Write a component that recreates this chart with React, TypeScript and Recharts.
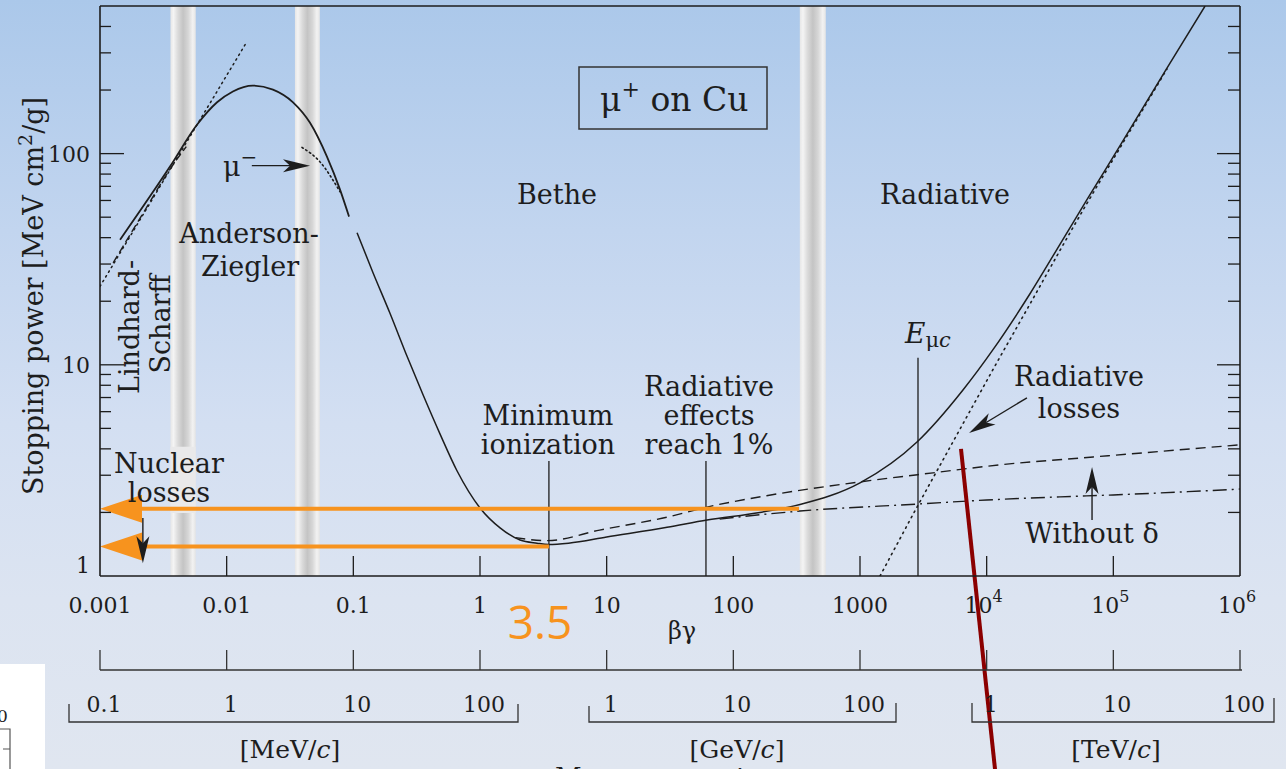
import React from 'react'
import {
  ComposedChart,
  Line,
  XAxis,
  YAxis,
  ReferenceArea,
  ReferenceLine,
} from 'recharts'

const W = 1286
const H = 769
const ink = '#1d1d1d'
const orange = '#f7931e'
const serif = '"DejaVu Serif", "Liberation Serif", serif'

// beta-gamma decades (main and secondary axis)
const decades = [0.001, 0.01, 0.1, 1, 10, 100, 1000, 1e4, 1e5, 1e6]
const decadeLabels = ['0.001', '0.01', '0.1', '1', '10', '100', '1000', '10|4', '10|5', '10|6']

// muon momentum under each decade (p = beta-gamma * 105.7 MeV/c)
const momentumLabels = ['0.1', '1', '10', '100', '1', '10', '100', '1', '10', '100']

// stopping power ticks
const yTicks = [1, 2, 3, 4, 5, 6, 7, 8, 9, 10, 20, 30, 40, 50, 60, 70, 80, 90, 100, 200, 300, 400]
const yMajor = [1, 10, 100]

// curves: [beta-gamma, MeV cm2/g]
const andersonZiegler = [
  [0.00144, 39.1], [0.00357, 86.8], [0.00583, 137], [0.0084, 175], [0.0112, 197],
  [0.0161, 210], [0.0232, 201], [0.0334, 175], [0.0455, 140], [0.0619, 96.8],
  [0.0785, 67.5], [0.0925, 50.3],
]
const betheTotal = [
  [0.107, 42.2], [0.143, 27.3], [0.195, 17.5], [0.265, 11.0], [0.355, 7.21],
  [0.483, 4.71], [0.658, 3.15], [1.0, 2.1], [1.44, 1.69], [2.07, 1.48],
  [2.82, 1.43], [3.5, 1.41], [5, 1.43], [10, 1.53], [30, 1.7], [62, 1.84],
  [162, 2.0], [336, 2.18], [1000, 2.76], [2818, 4.31], [6500, 7.6],
  [11220, 11.8], [21980, 21.7], [37900, 37.2], [61900, 60.5], [113000, 109],
  [265000, 254], [530000, 500],
]
const withoutDensity = [
  [1.9, 1.52], [3.4, 1.47], [8.8, 1.65], [30, 1.9], [62, 2.12], [183, 2.4],
  [1000, 2.79], [3770, 3.08], [12740, 3.36], [69200, 3.66], [1e6, 4.18],
]
const ionizationOnly = [
  [78, 1.86], [162, 1.95], [336, 2.03], [2818, 2.19], [10000, 2.29],
  [37900, 2.37], [100000, 2.42], [1e6, 2.58],
]
const radiativeLosses = [
  [1440, 1.0], [2820, 2.12], [6150, 4.95], [11220, 9.5], [21980, 19.4],
  [37900, 34.8], [61900, 58.1], [113000, 106.6], [265000, 251.5],
]
const lindhardScharff = [[0.001, 23.5], [0.0145, 340]]
const lowEnergyDashed = [[0.00127, 30.4], [0.00218, 52], [0.0036, 85], [0.0048, 108]]
const muMinus = [[0.0393, 107], [0.0544, 91.6], [0.0785, 66]]

// grey bands (beta-gamma ranges)
const bands = [[0.0036, 0.0057], [0.0346, 0.0544], [335, 537]]

// vertical markers: [beta-gamma, top value]
const markers = [[3.5, 3.5], [60.8, 3.5], [2870, 10.8]]

const toPts = (a: number[][]) => a.map(([x, y]) => ({ x, y }))
const near = (a: number, b: number) => Math.abs(Math.log10(a) - Math.log10(b)) < 0.01

function BottomTick({ x, y, payload }: any) {
  const i = decades.findIndex((d) => near(d, payload.value))
  const inner = i > 0 && i < decades.length - 1
  const [base, exp] = (decadeLabels[i] ?? '').split('|')
  return (
    <g fontFamily={serif} fontSize={22} fill={ink}>
      {inner && <line x1={x} x2={x} y1={y} y2={y - 20} stroke={ink} strokeWidth={1.3} />}
      <text x={exp ? x - 3 : x} y={y + 37} textAnchor="middle">
        {base}
        {exp && (
          <tspan dy={-11} fontSize={16}>
            {exp}
          </tspan>
        )}
      </text>
      {/* secondary beta-gamma scale */}
      <line x1={x} x2={x} y1={y + 74} y2={y + 94} stroke="#333" strokeWidth={1.3} />
      {/* momentum scale */}
      <text x={x + 4} y={y + 136} textAnchor="middle">
        {momentumLabels[i]}
      </text>
    </g>
  )
}

function TopTick({ x, y, payload }: any) {
  const i = decades.findIndex((d) => near(d, payload.value))
  if (i <= 0 || i >= decades.length - 1) return <g />
  return <line x1={x} x2={x} y1={y} y2={y + 20} stroke={ink} strokeWidth={1.3} />
}

function LeftTick({ x, y, payload }: any) {
  const v = payload.value
  const major = yMajor.includes(v)
  const len = major ? 24 : 11
  return (
    <g>
      {v !== 1 && <line x1={x} x2={x + len} y1={y} y2={y} stroke={ink} strokeWidth={1.3} />}
      {major && (
        <text x={x - 10} y={v === 1 ? y - 3 : y + 8} textAnchor="end" fontFamily={serif} fontSize={22} fill={ink}>
          {v}
        </text>
      )}
    </g>
  )
}

function RightTick({ x, y, payload }: any) {
  const v = payload.value
  if (v === 1) return <g />
  const len = yMajor.includes(v) ? 23 : 12
  return <line x1={x} x2={x - len} y1={y} y2={y} stroke={ink} strokeWidth={1.3} />
}

const arrowShape =
  (len: number, half: number, notch: number, color: string, width: number) =>
  (p: any) => {
    const { x1, y1, x2, y2 } = p
    const dx = x2 - x1
    const dy = y2 - y1
    const d = Math.hypot(dx, dy) || 1
    const ux = dx / d
    const uy = dy / d
    const bx = x2 - ux * len
    const by = y2 - uy * len
    const nx = -uy
    const ny = ux
    const mx = x2 - ux * (len - notch)
    const my = y2 - uy * (len - notch)
    const pts = [
      [x2, y2],
      [bx + nx * half, by + ny * half],
      [mx, my],
      [bx - nx * half, by - ny * half],
    ]
    return (
      <g>
        <line x1={x1} y1={y1} x2={mx} y2={my} stroke={color} strokeWidth={width} />
        <polygon points={pts.map((q) => q.join(',')).join(' ')} fill={color} />
      </g>
    )
  }

const orangeArrow = arrowShape(42, 14, 0, orange, 4)
const blackArrow = arrowShape(27, 6.5, 7, ink, 1.4)

const ax = { xAxisId: 'main', yAxisId: 'main' } as const
const lineCommon = {
  ...ax,
  dataKey: 'y',
  dot: false,
  activeDot: false,
  isAnimationActive: false,
  stroke: ink,
  type: 'monotone' as const,
}

export default function App() {
  return (
    <div
      style={{
        position: 'absolute',
        left: 0,
        top: 0,
        width: W,
        height: H,
        overflow: 'hidden',
        background:
          'linear-gradient(to bottom, #abc8ea 0%, #c2d5ef 30%, #d3dff2 55%, #dce4f1 78%, #e0e6f0 100%)',
      }}
    >
      <ComposedChart width={W} height={H} margin={{ top: 0, right: 0, bottom: 0, left: 0 }}>
        <defs>
          <linearGradient id="bandGrad" x1="0" y1="0" x2="1" y2="0">
            <stop offset="0" stopColor="#e6e6e6" />
            <stop offset="0.12" stopColor="#f4f4f4" />
            <stop offset="0.3" stopColor="#dadada" />
            <stop offset="0.5" stopColor="#c4c4c4" />
            <stop offset="0.7" stopColor="#d6d6d6" />
            <stop offset="0.88" stopColor="#f2f2f2" />
            <stop offset="1" stopColor="#e4e4e4" />
          </linearGradient>
        </defs>
        <XAxis
          xAxisId="main"
          type="number"
          dataKey="x"
          scale="log"
          domain={[0.001, 1e6]}
          allowDataOverflow
          ticks={decades}
          interval={0}
          height={193}
          tickSize={0}
          tickMargin={0}
          tickLine={false}
          axisLine={{ stroke: ink, strokeWidth: 1.6 }}
          tick={(p: any) => <BottomTick {...p} />}
        />
        <XAxis
          xAxisId="top"
          orientation="top"
          type="number"
          scale="log"
          domain={[0.001, 1e6]}
          allowDataOverflow
          ticks={decades}
          interval={0}
          height={6}
          tickSize={0}
          tickMargin={0}
          tickLine={false}
          axisLine={{ stroke: ink, strokeWidth: 1.6 }}
          tick={(p: any) => <TopTick {...p} />}
        />
        <YAxis
          yAxisId="main"
          type="number"
          scale="log"
          domain={[1, 500]}
          allowDataOverflow
          ticks={yTicks}
          interval={0}
          width={100}
          tickSize={0}
          tickMargin={0}
          tickLine={false}
          axisLine={{ stroke: ink, strokeWidth: 1.6 }}
          tick={(p: any) => <LeftTick {...p} />}
        />
        <YAxis
          yAxisId="right"
          orientation="right"
          type="number"
          scale="log"
          domain={[1, 500]}
          allowDataOverflow
          ticks={yTicks}
          interval={0}
          width={46}
          tickSize={0}
          tickMargin={0}
          tickLine={false}
          axisLine={{ stroke: ink, strokeWidth: 1.6 }}
          tick={(p: any) => <RightTick {...p} />}
        />

        {bands.map(([a, b], i) => (
          <ReferenceArea key={i} {...ax} x1={a} x2={b} fill="url(#bandGrad)" fillOpacity={1} stroke="none" ifOverflow="visible" />
        ))}
        <ReferenceArea {...ax} x1={bands[0][0]} x2={bands[0][1]} y1={1.99} y2={4.09} fill="#e9e9ea" fillOpacity={1} stroke="none" />

        {markers.map(([x, top], i) => (
          <ReferenceLine key={i} {...ax} segment={[{ x, y: top }, { x, y: 1 }]} stroke={ink} strokeWidth={1.3} ifOverflow="visible" />
        ))}

        <Line {...lineCommon} data={toPts(lindhardScharff)} type="linear" strokeWidth={1.5} strokeDasharray="1.5 4" strokeLinecap="round" />
        <Line {...lineCommon} data={toPts(lowEnergyDashed)} strokeWidth={1.4} strokeDasharray="8 4" />
        <Line {...lineCommon} data={toPts(muMinus)} strokeWidth={1.6} strokeDasharray="1.5 3" strokeLinecap="round" />
        <Line {...lineCommon} data={toPts(andersonZiegler)} strokeWidth={1.8} />
        <Line {...lineCommon} data={toPts(withoutDensity)} strokeWidth={1.4} strokeDasharray="10 6" />
        <Line {...lineCommon} data={toPts(ionizationOnly)} strokeWidth={1.4} strokeDasharray="14 5 2 5" />
        <Line {...lineCommon} data={toPts(radiativeLosses)} strokeWidth={1.6} strokeDasharray="1.5 4.5" strokeLinecap="round" />
        <Line {...lineCommon} data={toPts(betheTotal)} strokeWidth={1.5} />

        <ReferenceLine {...ax} segment={[{ x: 330, y: 2.08 }, { x: 0.001, y: 2.08 }]} ifOverflow="visible" shape={orangeArrow} />
        <ReferenceLine {...ax} segment={[{ x: 3.5, y: 1.38 }, { x: 0.001, y: 1.38 }]} ifOverflow="visible" shape={orangeArrow} />

        <ReferenceLine {...ax} segment={[{ x: 0.0158, y: 87.7 }, { x: 0.0455, y: 87.7 }]} ifOverflow="visible" shape={blackArrow} />
        <ReferenceLine {...ax} segment={[{ x: 0.00218, y: 1.88 }, { x: 0.00218, y: 1.15 }]} ifOverflow="visible" shape={blackArrow} />
        <ReferenceLine {...ax} segment={[{ x: 20800, y: 6.98 }, { x: 7260, y: 4.76 }]} ifOverflow="visible" shape={blackArrow} />
        <ReferenceLine {...ax} segment={[{ x: 67900, y: 1.84 }, { x: 67900, y: 3.28 }]} ifOverflow="visible" shape={blackArrow} />

        <ReferenceLine {...ax} segment={[{ x: 6270, y: 4.0 }, { x: 11640, y: 0.1217 }]} ifOverflow="visible" stroke="#8b0000" strokeWidth={4} />
      </ComposedChart>

      <svg width={W} height={H} style={{ position: 'absolute', left: 0, top: 0 }}>
        <g fontFamily={serif} fill={ink} fontSize={27}>
          <text transform="translate(43,296) rotate(-90)" textAnchor="middle">
            Stopping power [MeV cm
            <tspan dy={-11} fontSize={19}>2</tspan>
            <tspan dy={11}>/g]</tspan>
          </text>

          <rect x={579} y={67} width={188} height={62} fill="none" stroke="#333" strokeWidth={1.5} />
          <text x={600} y={111} fontSize={33}>
            μ<tspan fontSize={22} dy={-14}>+</tspan>
            <tspan dy={14}>{'\u00a0on Cu'}</tspan>
          </text>

          <text x={557} y={204} textAnchor="middle">Bethe</text>
          <text x={945} y={204} textAnchor="middle">Radiative</text>

          <text x={249} y={243} textAnchor="middle">Anderson-</text>
          <text x={250} y={276} textAnchor="middle">Ziegler</text>

          <text x={223} y={176}>
            μ<tspan fontSize={20} dy={-12}>−</tspan>
          </text>

          <text transform="translate(139,327) rotate(-90)" textAnchor="middle">Lindhard-</text>
          <text transform="translate(170,324) rotate(-90)" textAnchor="middle">Scharff</text>

          <text x={169} y={473} textAnchor="middle">Nuclear</text>
          <text x={169} y={502} textAnchor="middle">losses</text>

          <text x={548} y={425} textAnchor="middle">Minimum</text>
          <text x={548} y={454} textAnchor="middle">ionization</text>

          <text x={709} y={396} textAnchor="middle">Radiative</text>
          <text x={709} y={425} textAnchor="middle">effects</text>
          <text x={709} y={454} textAnchor="middle">reach 1%</text>

          <text x={905} y={343} fontSize={28}>
            <tspan fontStyle="italic">E</tspan>
            <tspan fontSize={21} dy={4}>μ</tspan>
            <tspan fontSize={21} fontStyle="italic">c</tspan>
          </text>

          <text x={1079} y={386} textAnchor="middle">Radiative</text>
          <text x={1079} y={418} textAnchor="middle">losses</text>
          <text x={1092} y={543} textAnchor="middle">Without δ</text>

          <text x={682} y={639} textAnchor="middle" fontSize={24}>βγ</text>

          <text x={290} y={758} textAnchor="middle" fontSize={25}>
            [MeV/<tspan fontStyle="italic">c</tspan>]
          </text>
          <text x={737} y={758} textAnchor="middle" fontSize={25}>
            [GeV/<tspan fontStyle="italic">c</tspan>]
          </text>
          <text x={1116} y={758} textAnchor="middle" fontSize={25}>
            [TeV/<tspan fontStyle="italic">c</tspan>]
          </text>
          <text x={555} y={786} fontSize={26}>Muon momentum</text>
        </g>

        <g fill="none" stroke="#333" strokeWidth={1.3}>
          <path d="M100,670 H1242" />
          <path d="M69,704 V722 H518 V704" />
          <path d="M589,706 V722 H896 V703" />
          <path d="M972,703 V722 H1274 V698" />
        </g>

        <text x={540} y={639} textAnchor="middle" fontFamily='"Open Sans", sans-serif' fontSize={46} fill={orange}>
          3.5
        </text>

        <rect x={0} y={664} width={45} height={105} fill="#ffffff" />
        <text x={-3} y={722} fontFamily={serif} fontSize={17} fill="#222">0</text>
        <path d="M0,729 H10 V769 M3,749 H10" fill="none" stroke="#555" strokeWidth={1.2} />
      </svg>
    </div>
  )
}
